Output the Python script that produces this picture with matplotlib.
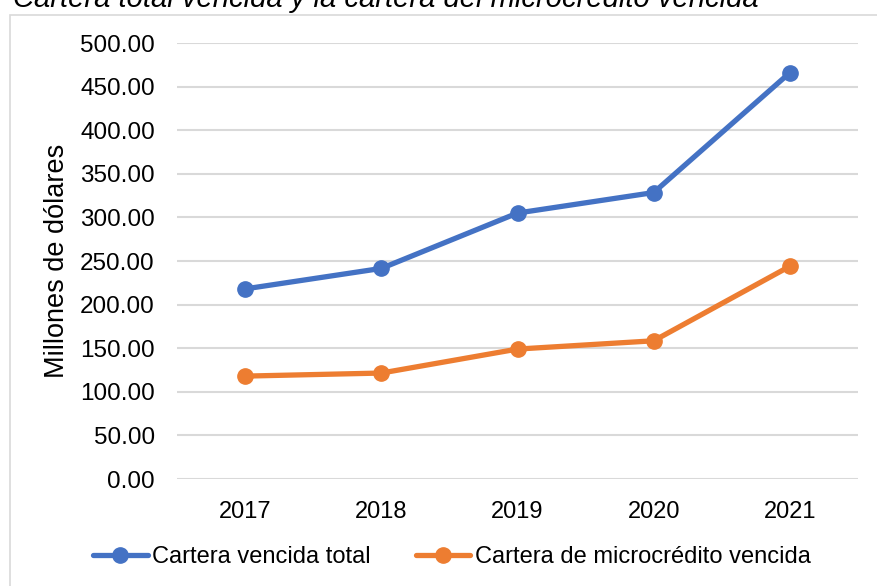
import numpy as np
import matplotlib.pyplot as plt
from matplotlib.patches import Rectangle

# datos (millones de dolares)
anios = ['2017', '2018', '2019', '2020', '2021']
cartera_total = [218.0, 241.5, 305.0, 328.5, 466.0]
cartera_micro = [118.0, 121.5, 149.0, 158.5, 244.0]

AZUL = '#4472C4'
NARANJA = '#ED7D31'
GRIS = '#D9D9D9'

plt.rcParams['font.family'] = ['Liberation Sans', 'DejaVu Sans']

fig = plt.figure(figsize=(8.77, 5.86), dpi=100)

# marco del grafico (cortado a la derecha y abajo)
fig.patches.append(Rectangle((10 / 877, -0.1), 1.2, 1 - 15 / 586 + 0.1,
                             transform=fig.transFigure, fill=False,
                             edgecolor=GRIS, linewidth=1.2))

# titulo cortado arriba
fig.text(13 / 877, 1 - 7 / 586,
         'Cartera total vencida y la cartera del microcrédito vencida',
         fontsize=21, style='italic', ha='left', va='baseline')

ax = fig.add_axes([177 / 877, 1 - 479 / 586, 681 / 877, 436 / 586])

x = np.arange(len(anios))
ax.plot(x, cartera_total, color=AZUL, lw=3.8, marker='o', ms=11,
        label='Cartera vencida total', solid_capstyle='round')
ax.plot(x, cartera_micro, color=NARANJA, lw=3.8, marker='o', ms=11,
        label='Cartera de microcrédito vencida', solid_capstyle='round')

ax.set_xlim(-0.5, len(anios) - 0.5)
ax.set_ylim(0, 500)
ax.set_yticks(np.arange(0, 501, 50))
ax.set_yticklabels([f'{v:.2f}' for v in np.arange(0, 501, 50)])
ax.set_xticks(x)
ax.set_xticklabels(anios)

ax.grid(axis='y', color=GRIS, lw=1.5)
ax.set_axisbelow(True)
for s in ax.spines.values():
    s.set_visible(False)
ax.tick_params(length=0, labelsize=17)
ax.tick_params(axis='y', pad=16, labelsize=17.5)
ax.tick_params(axis='x', pad=16)

ax.set_ylabel('Millones de dólares', fontsize=19.5)
ax.yaxis.set_label_coords(-0.157, 0.5)

ax.legend(loc='center', bbox_to_anchor=(0.5 * (92 + 812) / 877, 1 - 557 / 586),
          bbox_transform=fig.transFigure, ncol=2, frameon=False,
          fontsize=17, handlelength=2.3, handletextpad=0.2, columnspacing=1.9)

fig.savefig('out.png', dpi=100)
